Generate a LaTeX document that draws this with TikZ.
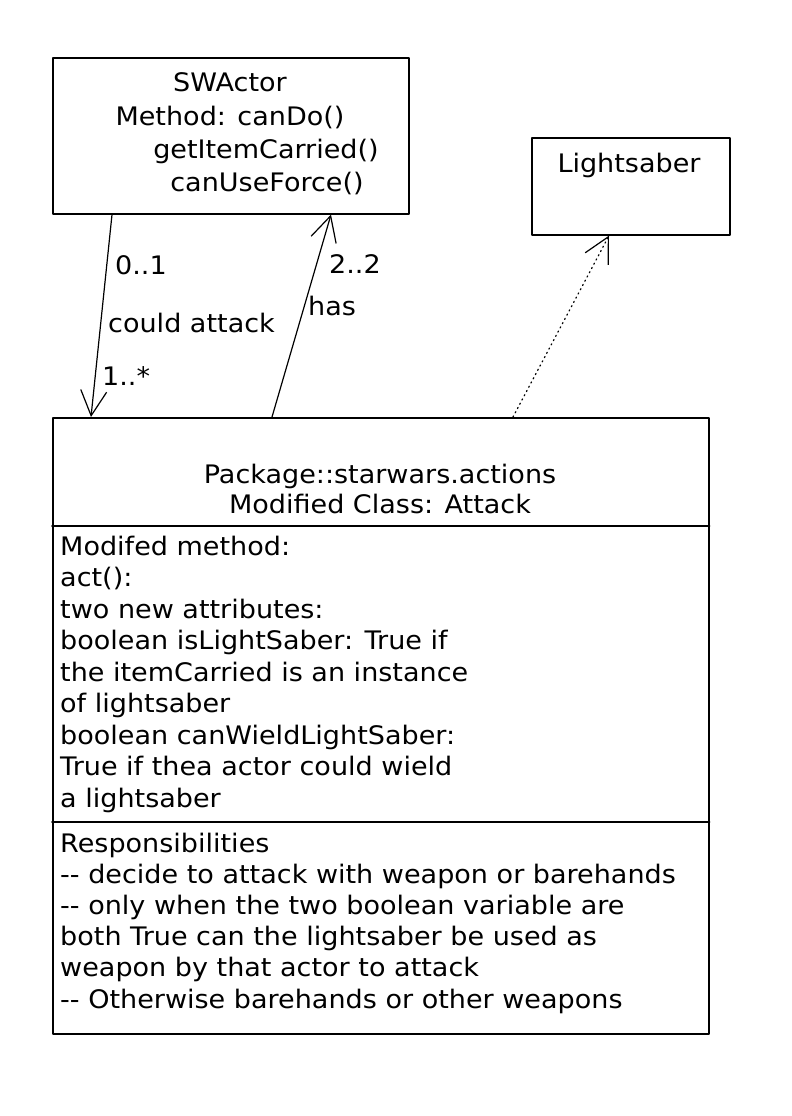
\documentclass[tikz,border=0pt]{standalone}
\usepackage{fontspec}
\setmainfont{DejaVu Sans}[FakeStretch=1.06]
\usetikzlibrary{arrows.meta}

\tikzset{
  umlbox/.style={draw,line width=1.6pt,rectangle,inner sep=0pt,anchor=north west},
  txt/.style={inner sep=0pt,anchor=base west,font=\fontsize{25.5}{30}\selectfont},
  ctxt/.style={inner sep=0pt,anchor=base,font=\fontsize{25.5}{30}\selectfont},
  assoc/.style={line width=1.2pt,-{Straight Barb[length=25pt,width=26pt,line width=1.2pt]}},
}

\begin{document}
\begin{tikzpicture}[x=1pt,y=-1pt,line cap=round,line join=round]
\useasboundingbox (0,0) rectangle (792,1116);
% classes
\node[umlbox,minimum width=356pt,minimum height=156pt] (actor) at (52,57) {};
\node[umlbox,minimum width=198pt,minimum height=97pt] (saber) at (531,137) {};
\node[umlbox,minimum width=656pt,minimum height=616pt] (attack) at (52,417) {};
\draw[line width=1.6pt] (attack.west |- 0,526) -- (attack.east |- 0,526);
\draw[line width=1.6pt] (attack.west |- 0,822) -- (attack.east |- 0,822);
% names
\node[ctxt] (actorname) at (230,92) {SWActor};
\node[ctxt] (actorm1) at (230,125) {Method: canDo()};
\node[ctxt] (actorm2) at (266,158) {getItemCarried()};
\node[ctxt] (actorm3) at (267,191) {canUseForce()};
\node[ctxt] (sabername) at (629,172) {Lightsaber};
\node[ctxt] (pkg) at (380,483) {Package::starwars.actions};
\node[ctxt] (cls) at (380,513) {Modified Class: Attack};
% attributes
\foreach \t [count=\i from 0] in {Modifed method:,act():,two new attributes:,
  boolean isLightSaber: True if,the itemCarried is an instance,of lightsaber,
  boolean canWieldLightSaber:,True if thea actor could wield,a lightsaber}
  \node[txt] (attr\i) at (60,{555+31.5*\i}) {\t};
% responsibilities
\foreach \t [count=\i from 0] in {Responsibilities,
  -{}- decide to attack with weapon or barehands,
  -{}- only when the two boolean variable are,
  both True can the lightsaber be used as,
  weapon by that actor to attack,
  -{}- Otherwise barehands or other weapons}
  \node[txt] (resp\i) at (60,{852+31.2*\i}) {\t};
% associations
\draw[assoc] ([xshift=60pt]actor.south west) -- ([xshift=39pt]attack.north west);
\draw[assoc] ([xshift=220pt]attack.north west) -- ([xshift=279pt]actor.south west);
\draw[assoc,dash pattern=on 1.2pt off 3.6pt] ([xshift=461pt]attack.north west) -- ([xshift=78pt]saber.south west);
\node[txt] (mult1) at (115,274) {0..1};
\node[txt] (assoc1) at (108,332) {could attack};
\node[txt] (mult2) at (102,385) {1..*};
\node[txt] (mult3) at (329,273) {2..2};
\node[txt] (assoc2) at (308,315) {has};
\end{tikzpicture}
\end{document}
